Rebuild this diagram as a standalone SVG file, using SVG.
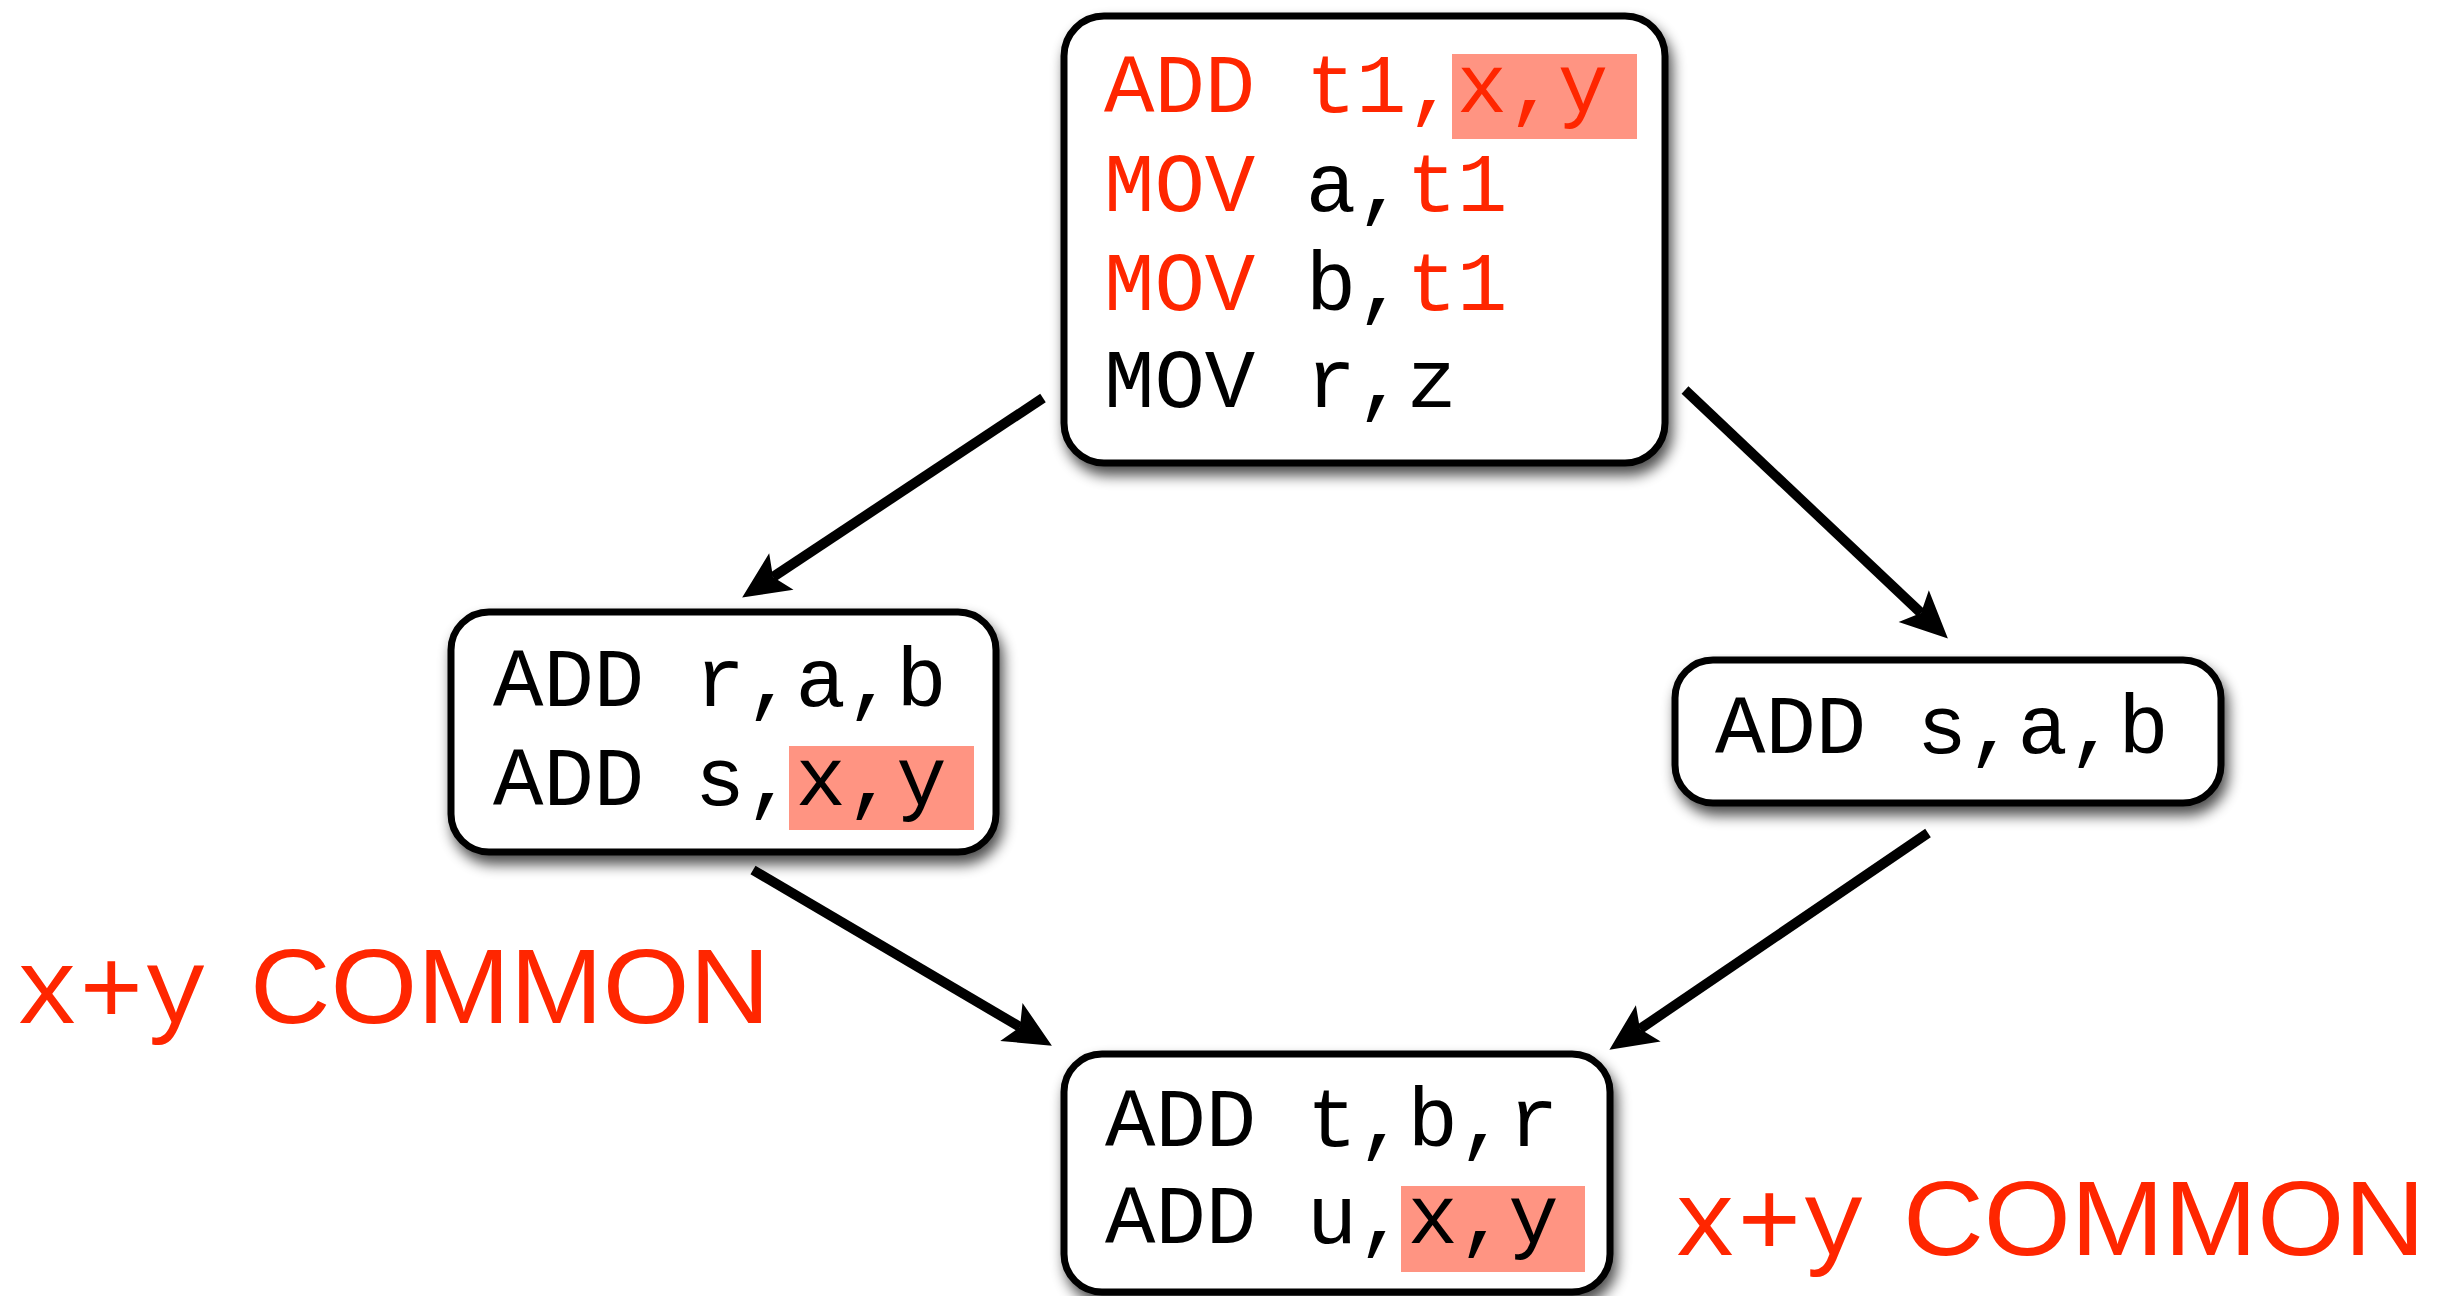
<svg xmlns="http://www.w3.org/2000/svg" width="2447" height="1296" viewBox="0 0 2447 1296">
<style>
.box{fill:#fff;stroke:#000;stroke-width:7;filter:url(#sh)}
.code{font-family:"Liberation Mono","Courier New",monospace;font-size:84px;fill:#000}
.r{fill:#FF2600}
.hl{fill:#FF9482}
.lbl{fill:#FF2600}
.mono{font-family:"Liberation Mono","Courier New",monospace;font-size:107px}
.sans{font-family:"Liberation Sans",Arial,sans-serif;font-size:106px}
.conn{stroke:#000;stroke-width:10;fill:none;marker-end:url(#ah)}
</style>
<defs>
<filter id="sh" x="-10%" y="-10%" width="125%" height="130%">
<feGaussianBlur in="SourceAlpha" stdDeviation="7"/>
<feOffset dx="4" dy="9" result="b"/>
<feComponentTransfer><feFuncA type="linear" slope="0.7"/></feComponentTransfer>
<feMerge><feMergeNode/><feMergeNode in="SourceGraphic"/></feMerge>
</filter>
<marker id="ah" markerUnits="userSpaceOnUse" viewBox="-12 -24 52 48" markerWidth="52" markerHeight="48" refX="0" refY="0" orient="auto" overflow="visible">
<path d="M37,0 L-10,-22 L0,0 L-10,22 Z" fill="#000"/>
</marker>
</defs>
<rect width="2447" height="1296" fill="#fff"/>
<g id="connectors">
<line class="conn" x1="1043" y1="398" x2="773" y2="577"/>
<line class="conn" x1="1685" y1="390" x2="1921" y2="613"/>
<line class="conn" x1="753" y1="870" x2="1020" y2="1027"/>
<line class="conn" x1="1928" y1="833" x2="1640" y2="1029"/>
</g>
<g id="n-top">
<rect class="box" x="1064" y="16" width="601" height="447" rx="40"/>
<rect class="hl" x="1452" y="54" width="185" height="85"/>
<text class="code" x="1104" y="112"><tspan class="r">ADD t1,x,y</tspan></text>
<text class="code" x="1104" y="211"><tspan class="r">MOV</tspan> a,<tspan class="r">t1</tspan></text>
<text class="code" x="1104" y="310"><tspan class="r">MOV</tspan> b,<tspan class="r">t1</tspan></text>
<text class="code" x="1104" y="407">MOV r,z</text>
</g>
<g id="n-left">
<rect class="box" x="451" y="612" width="545" height="240" rx="38"/>
<rect class="hl" x="789" y="746" width="185" height="84"/>
<text class="code" x="493" y="706">ADD r,a,b</text>
<text class="code" x="493" y="805">ADD s,x,y</text>
</g>
<g id="n-right">
<rect class="box" x="1675" y="660" width="546" height="143" rx="38"/>
<text class="code" x="1715" y="753">ADD s,a,b</text>
</g>
<g id="n-bottom">
<rect class="box" x="1064" y="1054" width="546" height="238" rx="38"/>
<rect class="hl" x="1401" y="1186" width="184" height="86"/>
<text class="code" x="1105" y="1146">ADD t,b,r</text>
<text class="code" x="1105" y="1243">ADD u,x,y</text>
</g>
<g id="label-left">
<text class="mono lbl" x="15" y="1023">x+y</text>
<text class="sans lbl" x="250" y="1023" textLength="520" lengthAdjust="spacingAndGlyphs">COMMON</text>
</g>
<g id="label-right">
<text class="mono lbl" x="1673" y="1255">x+y</text>
<text class="sans lbl" x="1903" y="1255" textLength="522" lengthAdjust="spacingAndGlyphs">COMMON</text>
</g>
</svg>
